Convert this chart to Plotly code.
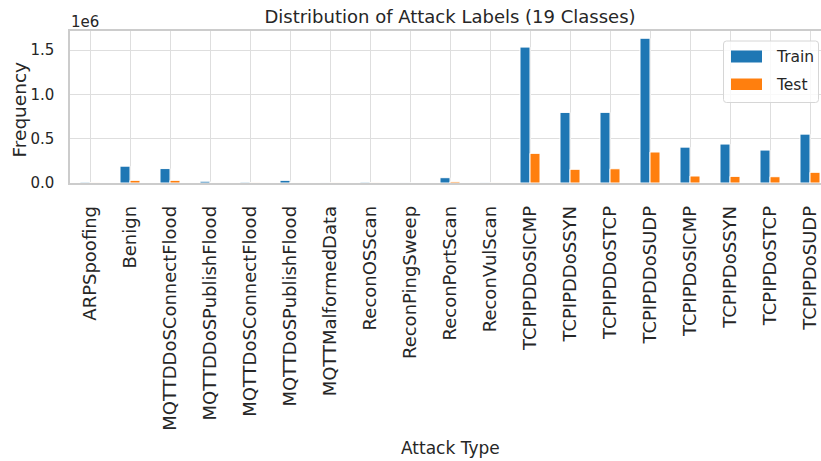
import plotly.graph_objects as go

# Attack classes and sample counts per split
categories = [
    "ARPSpoofing", "Benign", "MQTTDDoSConnectFlood", "MQTTDDoSPublishFlood",
    "MQTTDoSConnectFlood", "MQTTDoSPublishFlood", "MQTTMalformedData",
    "ReconOSScan", "ReconPingSweep", "ReconPortScan", "ReconVulScan",
    "TCPIPDDoSICMP", "TCPIPDDoSSYN", "TCPIPDDoSTCP", "TCPIPDDoSUDP",
    "TCPIPDoSICMP", "TCPIPDoSSYN", "TCPIPDoSTCP", "TCPIPDoSUDP",
]
train_counts = [
    9000, 190000, 163000, 20000, 9000, 30000, 5000, 9000, 700, 60000, 2200,
    1535000, 797000, 798000, 1635000, 405000, 440000, 372000, 552000,
]
test_counts = [
    2000, 30000, 30000, 6000, 2500, 6000, 1500, 3000, 200, 15000, 1000,
    335000, 155000, 161000, 350000, 79000, 75000, 71000, 121000,
]
ytick_values = [0, 500000, 1000000, 1500000]
ytick_labels = ["0.0", "0.5", "1.0", "1.5"]

BLUE = "#1f77b4"
ORANGE = "#ff7f0e"
TEXT = "#262626"
GRID = "#dedede"
SPINE = "#cccccc"
FONT = "DejaVu Sans"

W, H = 821, 461
ML, MR, MT, MB = 70, 0, 31, 278
PW = W - ML - MR
PH = H - MT - MB


def px_x(x):
    return (x - ML) / PW


def px_y(y):
    return (H - MB - y) / PH


fig = go.Figure()
fig.add_trace(go.Bar(x=categories, y=train_counts, name="Train",
                     marker=dict(color=BLUE, line=dict(color="white", width=1))))
fig.add_trace(go.Bar(x=categories, y=test_counts, name="Test",
                     marker=dict(color=ORANGE, line=dict(color="white", width=1))))

ymax = 1.05 * max(max(train_counts), max(test_counts))

# Legend panel drawn as a rounded box with colour swatches
bx0, bx1, by0, by1, r = 723.5, 818.5, 41, 102.5, 3
rx, ry = r / PW, r / PH
X0, X1, Y0, Y1 = px_x(bx0), px_x(bx1), px_y(by1), px_y(by0)
box_path = (
    f"M {X0+rx},{Y0} L {X1-rx},{Y0} Q {X1},{Y0} {X1},{Y0+ry} "
    f"L {X1},{Y1-ry} Q {X1},{Y1} {X1-rx},{Y1} "
    f"L {X0+rx},{Y1} Q {X0},{Y1} {X0},{Y1-ry} "
    f"L {X0},{Y0+ry} Q {X0},{Y0} {X0+rx},{Y0} Z"
)
shapes = [
    dict(type="path", path=box_path, xref="paper", yref="paper",
         fillcolor="rgba(255,255,255,0.8)", line=dict(color="#d6d6d6", width=1),
         layer="above"),
    dict(type="rect", xref="paper", yref="paper",
         x0=px_x(731), x1=px_x(762), y0=px_y(62.5), y1=px_y(50.5),
         fillcolor=BLUE, line=dict(width=0), layer="above"),
    dict(type="rect", xref="paper", yref="paper",
         x0=px_x(731), x1=px_x(762), y0=px_y(90), y1=px_y(78.5),
         fillcolor=ORANGE, line=dict(width=0), layer="above"),
]

annotations = [
    dict(text="Train", xref="paper", yref="paper", x=px_x(774), y=px_y(56.5),
         xanchor="left", yanchor="middle", showarrow=False,
         font=dict(family=FONT, size=15.5, color=TEXT)),
    dict(text="Test", xref="paper", yref="paper", x=px_x(774), y=px_y(84.5),
         xanchor="left", yanchor="middle", showarrow=False,
         font=dict(family=FONT, size=15.5, color=TEXT)),
    dict(text="1e6", xref="paper", yref="paper", x=px_x(69), y=px_y(21.5),
         xanchor="left", yanchor="middle", showarrow=False,
         font=dict(family=FONT, size=15, color=TEXT)),
    dict(text="Frequency", xref="paper", yref="paper", x=px_x(18.5), y=px_y(110),
         xanchor="center", yanchor="middle", textangle=-90, showarrow=False,
         font=dict(family=FONT, size=18.5, color=TEXT)),
    dict(text="Attack Type", xref="paper", yref="paper", x=px_x(450), y=px_y(448),
         xanchor="center", yanchor="middle", showarrow=False,
         font=dict(family=FONT, size=17, color=TEXT)),
]

fig.update_layout(
    width=W, height=H,
    margin=dict(l=ML, r=MR, t=MT, b=MB, autoexpand=False),
    paper_bgcolor="white", plot_bgcolor="white",
    barmode="group", bargap=0.5, bargroupgap=0,
    showlegend=False,
    title=dict(text="Distribution of Attack Labels (19 Classes)",
               xref="paper", x=px_x(450), xanchor="center",
               yref="container", y=1 - 17 / H, yanchor="middle",
               font=dict(family=FONT, size=18, color=TEXT)),
    font=dict(family=FONT, color=TEXT),
    shapes=shapes,
    annotations=annotations,
)

fig.update_xaxes(
    type="category", range=[-0.5, -0.5 + PW / 40],
    showgrid=True, gridcolor=GRID, gridwidth=1.3,
    showline=True, linecolor=SPINE, linewidth=1.5, mirror=True,
    tickangle=-90, ticks="", ticklabelstandoff=14,
    tickfont=dict(family=FONT, size=18, color=TEXT),
    automargin=False,
)
fig.update_yaxes(
    range=[0, ymax],
    tickvals=ytick_values, ticktext=ytick_labels,
    showgrid=True, gridcolor=GRID, gridwidth=1.3,
    showline=True, linecolor=SPINE, linewidth=1.5, mirror=False,
    zeroline=False, ticks="", ticklabelstandoff=11,
    tickfont=dict(family=FONT, size=15, color=TEXT),
    automargin=False,
)

fig.write_html("out.html")
